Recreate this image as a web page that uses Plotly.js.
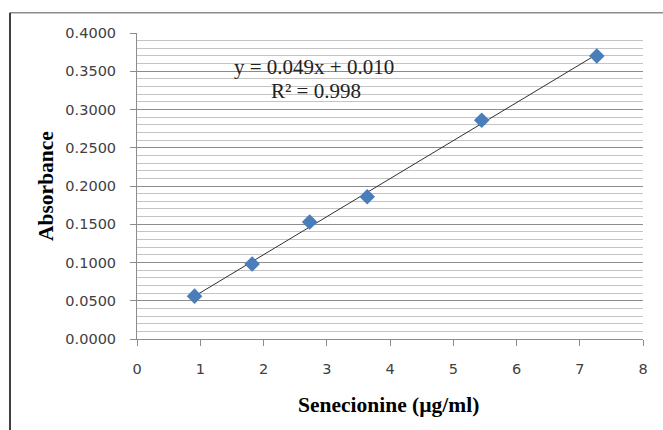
<!DOCTYPE html>
<html>
<head>
<meta charset="utf-8">
<script src="https://cdn.plot.ly/plotly-3.0.1.min.js"></script>
<style>html,body{margin:0;padding:0;background:#fff;}#chart{width:663px;height:430px;}</style>
</head>
<body>
<div id="chart"></div>
<script>
// Data
const concentration = [0.91, 1.82, 2.73, 3.64, 5.45, 7.27];   // µg/ml
const absorbance    = [0.056, 0.098, 0.153, 0.186, 0.286, 0.370];
const equationText  = "y = 0.049x + 0.010";
const r2Text        = "R\u00B2 = 0.998";
const xTitle = "Senecionine (\u00B5g/ml)";
const yTitle = "Absorbance";

// Least-squares trendline over the data range (as the spreadsheet does)
const n = concentration.length;
const mx = concentration.reduce((a,b)=>a+b,0)/n;
const my = absorbance.reduce((a,b)=>a+b,0)/n;
let sxy = 0, sxx = 0;
for (let i = 0; i < n; i++) { sxy += (concentration[i]-mx)*(absorbance[i]-my); sxx += (concentration[i]-mx)**2; }
const slope = sxy/sxx, intercept = my - slope*mx;
const trendX = [Math.min(...concentration), Math.max(...concentration)];
const trendY = trendX.map(x => slope*x + intercept);

const tickFont = {family: "DejaVu Sans, sans-serif", size: 14.5, color: "#404040"};
const titleFont = {family: "Liberation Serif, Times New Roman, serif", size: 21.5, color: "#000"};
const eqFont = {family: "Liberation Serif, Times New Roman, serif", size: 21, color: "#222"};

const traces = [
  {x: trendX, y: trendY, mode: "lines", line: {color: "#303030", width: 1}, hoverinfo: "skip", showlegend: false},
  {x: concentration, y: absorbance, mode: "markers",
   marker: {symbol: "diamond", size: 12, color: "#4A7EBB", line: {width: 0}}, showlegend: false}
];

const minorGrid = [];
for (let v = 0.01; v < 0.4; v += 0.01) minorGrid.push(+v.toFixed(2));

const layout = {
  width: 663, height: 430,
  margin: {l: 137, r: 20, t: 33, b: 91},
  paper_bgcolor: "#fff", plot_bgcolor: "#fff",
  showlegend: false,
  xaxis: {
    range: [0, 8], dtick: 1, tick0: 0,
    showgrid: false, zeroline: false,
    showline: true, linecolor: "#8c8c8c", linewidth: 1,
    ticks: "outside", ticklen: 6, tickcolor: "#8c8c8c",
    tickfont: tickFont, ticklabelstandoff: 11
  },
  yaxis: {
    range: [0, 0.4], dtick: 0.05, tick0: 0, tickformat: ".4f",
    showgrid: true, gridcolor: "#8c8c8c", gridwidth: 1,
    minor: {tickvals: minorGrid, showgrid: true, gridcolor: "#c4c4c4", gridwidth: 1, ticks: ""},
    zeroline: false,
    showline: true, linecolor: "#8c8c8c", linewidth: 1,
    ticks: "outside", ticklen: 6, tickcolor: "#8c8c8c",
    tickfont: tickFont, ticklabelstandoff: 11
  },
  shapes: [
    {type: "line", xref: "paper", yref: "paper", x0: -0.251, x1: 1.1, y0: 1.066, y1: 1.066, line: {color: "#8c8c8c", width: 1.5}},
    {type: "line", xref: "paper", yref: "paper", x0: -0.251, x1: -0.251, y0: 1.066, y1: -0.3, line: {color: "#404040", width: 2}}
  ],
  annotations: [
    {text: equationText, xref: "paper", yref: "paper", x: (314-137)/506, y: (339-67)/306, xanchor: "center", yanchor: "middle", showarrow: false, font: eqFont},
    {text: r2Text, xref: "paper", yref: "paper", x: (316-137)/506, y: (339-91)/306, xanchor: "center", yanchor: "middle", showarrow: false, font: eqFont},
    {text: "<b>" + xTitle + "</b>", xref: "paper", yref: "paper", x: (388-137)/506, y: (339-405)/306, xanchor: "center", yanchor: "middle", showarrow: false, font: titleFont},
    {text: "<b>" + yTitle + "</b>", xref: "paper", yref: "paper", x: (46-137)/506, y: (339-186)/306, xanchor: "center", yanchor: "middle", textangle: -90, showarrow: false, font: titleFont}
  ]
};

Plotly.newPlot("chart", traces, layout, {staticPlot: true, displayModeBar: false});
</script>
</body>
</html>
